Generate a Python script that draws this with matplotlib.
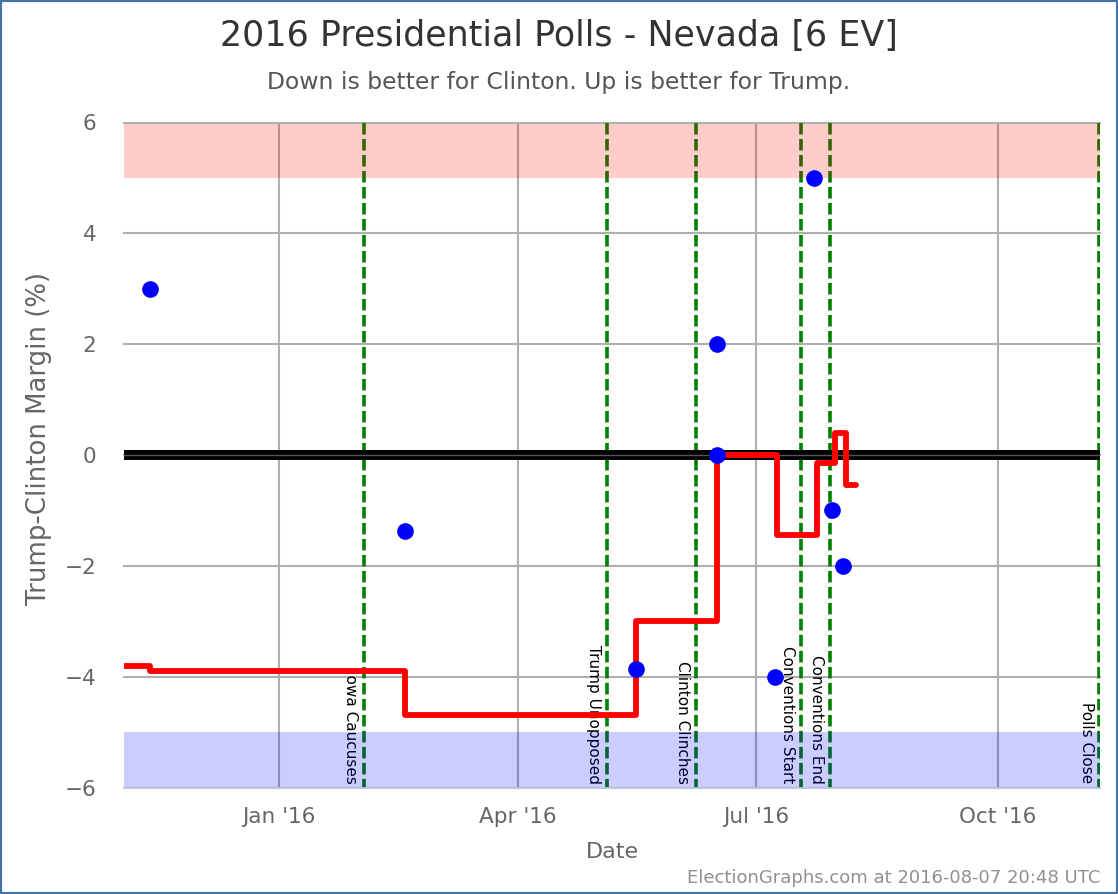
import matplotlib
matplotlib.use("Agg")
import matplotlib.pyplot as plt
from matplotlib.patches import Rectangle
from datetime import date, datetime

W, H = 1118, 894
plt.rcParams['font.family'] = ['DejaVu Sans']

title = "2016 Presidential Polls - Nevada [6 EV]"
subtitle = "Down is better for Clinton. Up is better for Trump."
xlabel = "Date"
ylabel = "Trump-Clinton Margin (%)"
footer = "ElectionGraphs.com at 2016-08-07 20:48 UTC"

x_start = date(2015, 11, 3)
x_end = date(2016, 11, 9)
month_ticks = [date(2016, 1, 1), date(2016, 4, 1), date(2016, 7, 1), date(2016, 10, 1)]
month_labels = ["Jan '16", "Apr '16", "Jul '16", "Oct '16"]
y_ticks = [-6, -4, -2, 0, 2, 4, 6]

event_names = ["Iowa Caucuses", "Trump Unopposed", "Clinton Clinches",
               "Conventions Start", "Conventions End", "Polls Close"]
event_dates = [datetime(2016, 2, 2, 12), datetime(2016, 5, 5), datetime(2016, 6, 8),
               datetime(2016, 7, 18), datetime(2016, 7, 29), datetime(2016, 11, 8, 18)]

poll_dates = [date(2015, 11, 13), date(2016, 2, 18), date(2016, 5, 16), date(2016, 6, 16),
              date(2016, 6, 16), date(2016, 7, 8), date(2016, 7, 23), date(2016, 7, 30),
              date(2016, 8, 3)]
poll_margins = [3, -1.37, -3.87, 2, 0, -4, 5, -1, -2]

avg_dates = [date(2015, 11, 3), date(2015, 11, 13), date(2015, 11, 13), date(2016, 2, 18),
             date(2016, 2, 18), date(2016, 5, 16), date(2016, 5, 16), date(2016, 6, 16),
             date(2016, 6, 16), date(2016, 7, 9), date(2016, 7, 9), date(2016, 7, 24),
             date(2016, 7, 24), date(2016, 7, 31), date(2016, 7, 31), date(2016, 8, 4),
             date(2016, 8, 4), date(2016, 8, 8)]
avg_margins = [-3.8, -3.8, -3.9, -3.9, -4.7, -4.7, -3.0, -3.0, 0.0, 0.0, -1.45, -1.45,
               -0.15, -0.15, 0.4, 0.4, -0.55, -0.55]

fig = plt.figure(figsize=(W / 100, H / 100), dpi=100, facecolor="white")
L, R, T, B = 124, 1100, 122.5, 787.5
ax = fig.add_axes([L / W, 1 - B / H, (R - L) / W, (B - T) / H])
ax.set_xlim(x_start, x_end)
ax.set_ylim(-6, 6)

for s in ["top", "left", "right"]:
    ax.spines[s].set_visible(False)
ax.spines["bottom"].set_color("#C0D0E0")
ax.spines["bottom"].set_linewidth(1.2)
ax.spines["bottom"].set_zorder(6)

ax.set_xticks(month_ticks)
ax.set_xticklabels(month_labels)
ax.set_yticks(y_ticks)
ax.set_yticklabels([str(v).replace("-", "\u2212") for v in y_ticks])
ax.tick_params(axis="both", length=0, labelsize=15.5, labelcolor="#666666")
ax.tick_params(axis="x", pad=14)
ax.tick_params(axis="y", pad=20)
ax.grid(True, color="#B0B0B0", linewidth=1.5, zorder=1)
ax.set_axisbelow(True)
for gl in ax.get_ygridlines():
    gl.set_clip_on(False)

ax.axhspan(5, 5.98, facecolor="#FF0000", alpha=0.2, linewidth=0, zorder=4)
ax.axhspan(-6, -5, facecolor="#0000FF", alpha=0.2, linewidth=0, zorder=4)

for name, d in zip(event_names, event_dates):
    ax.plot([d, d], [6, -6], color="#008000", linewidth=2.6,
            linestyle=(0, (3.2, 1.23)), dash_capstyle="butt", zorder=2)
    ax.annotate(name, xy=(d, -5.93), xytext=(-9.5, 0), textcoords="offset points",
                rotation=-90, ha="center", va="bottom", fontsize=11,
                color="black", zorder=3)

ax.axhline(0, color="black", linewidth=7.2, zorder=2.5)
ax.axhline(0, color="#555555", linewidth=1, zorder=2.6)

ax.plot(avg_dates, avg_margins, color="#FF0000", linewidth=4.2,
        solid_joinstyle="round", solid_capstyle="round", zorder=5)
ax.plot(poll_dates, poll_margins, linestyle="none", marker="o", markersize=12,
        markerfacecolor="#0000FF", markeredgewidth=0, zorder=7, clip_on=False)

def put(x, y, s, **kw):
    fig.text(x / W, 1 - y / H, s, **kw)

put(559, 36, title, ha="center", va="center", fontsize=25.1, color="#333333")
put(559, 82, subtitle, ha="center", va="center", fontsize=16.9, color="#555555")
put(612, 852, xlabel, ha="center", va="center", fontsize=16, color="#666666")
put(39, 438, ylabel, ha="center", va="center", rotation=90, fontsize=18.7, color="#666666")
put(1100, 878, footer, ha="right", va="center", fontsize=13, color="#909090")

fig.add_artist(Rectangle((0, 0), 1, 1, transform=fig.transFigure, fill=False,
                         edgecolor="#4572A7", linewidth=3))
fig.savefig("out.png", dpi=100)
